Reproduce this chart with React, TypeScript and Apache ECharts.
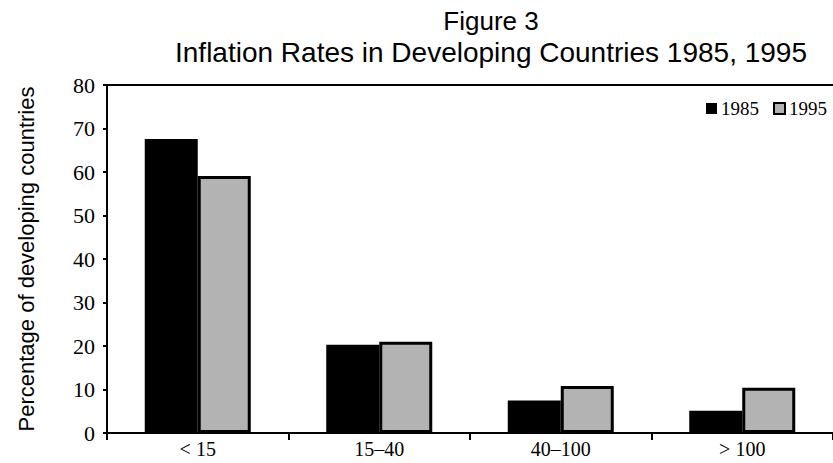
import React, { useEffect, useRef } from "react";
import * as echarts from "echarts";

const categories = ["< 15", "15–40", "40–100", "> 100"];
const series1985 = [67.6, 20.3, 7.5, 5.1];
const series1995 = [59.1, 21.0, 10.8, 10.4];
const yTicks = { min: 0, max: 80, interval: 10 };
const titleLine1 = "Figure 3";
const titleLine2 = "Inflation Rates in Developing Countries 1985, 1995";
const yName = "Percentage of developing countries";

const SANS = "'Liberation Sans', Arial, sans-serif";
const SERIF = "'Liberation Serif', 'Times New Roman', serif";

export default function App() {
  const ref = useRef<HTMLDivElement>(null);
  useEffect(() => {
    if (!ref.current) return;
    document.body.style.margin = "0";
    const chart = echarts.init(ref.current, null, { renderer: "svg" });
    chart.setOption({
      animation: false,
      backgroundColor: "#ffffff",
      title: [
        {
          text: titleLine1,
          left: 486,
          top: 2,
          textAlign: "center",
          textStyle: { fontFamily: SANS, fontSize: 26, lineHeight: 28, fontWeight: "normal", color: "#000" },
        },
        {
          text: titleLine2,
          left: 486,
          top: 33,
          textAlign: "center",
          textStyle: { fontFamily: SANS, fontSize: 28, lineHeight: 28, fontWeight: "normal", color: "#000" },
        },
      ],
      legend: {
        right: 1,
        top: 94,
        itemWidth: 11,
        itemHeight: 11,
        itemGap: 14,
        icon: "rect",
        textStyle: { fontFamily: SERIF, fontSize: 19, color: "#000", padding: [0, 0, 0, -1] },
        data: [
          { name: "1985", itemStyle: { color: "#000" } },
          { name: "1995", itemStyle: { color: "#b3b3b3", borderColor: "#000", borderWidth: 2 } },
        ],
      },
      grid: { left: 107, top: 85, width: 737, bottom: 30, containLabel: false },
      xAxis: [
        {
          type: "category",
          data: categories,
          axisLine: { lineStyle: { color: "#000", width: 2 } },
          axisTick: { show: true, length: 7, lineStyle: { color: "#000", width: 2 } },
          axisLabel: { fontFamily: SERIF, fontSize: 20, color: "#000", margin: 6 },
        },
        {
          type: "category",
          data: categories,
          position: "top",
          axisLine: { lineStyle: { color: "#000", width: 2 } },
          axisTick: { show: false },
          axisLabel: { show: false },
        },
      ],
      yAxis: {
        type: "value",
        min: yTicks.min,
        max: yTicks.max,
        interval: yTicks.interval,
        name: yName,
        nameLocation: "middle",
        nameRotate: 90,
        nameGap: 70,
        nameTextStyle: { fontFamily: SANS, fontSize: 22, color: "#000" },
        axisLine: { show: true, lineStyle: { color: "#000", width: 2 } },
        axisTick: { show: true, length: 4, lineStyle: { color: "#000", width: 2 } },
        axisLabel: { fontFamily: SERIF, fontSize: 22, color: "#000", margin: 12 },
        splitLine: { show: false },
      },
      series: [
        {
          name: "1985",
          type: "bar",
          xAxisIndex: 0,
          data: series1985,
          barWidth: 53,
          barGap: "0%",
          itemStyle: { color: "#000" },
        },
        {
          name: "1995",
          type: "bar",
          xAxisIndex: 0,
          data: series1995,
          barWidth: 53,
          barGap: "0%",
          itemStyle: { color: "#b3b3b3", borderColor: "#000", borderWidth: 3 },
        },
      ],
    });
    return () => chart.dispose();
  }, []);
  return <div ref={ref} style={{ width: 833, height: 463, position: "absolute", left: 0, top: 0 }} />;
}
